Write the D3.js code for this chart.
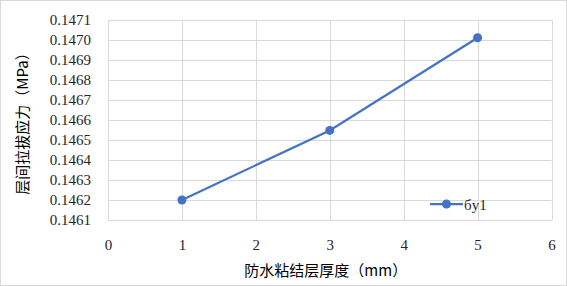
<!DOCTYPE html>
<html>
<head>
<meta charset="utf-8">
<script src="https://cdn.jsdelivr.net/npm/d3@7"></script>
<style>
  body { margin: 0; background: #fff; }
  svg { display: block; }
</style>
</head>
<body>
<div id="chart"></div>
<script>
// data
const thickness = [1, 3, 5];
const stress = [0.14620, 0.146548, 0.147011];
const seriesName = "бy1";
const xTicks = [0, 1, 2, 3, 4, 5, 6];
const yTicks = [0.1461, 0.1462, 0.1463, 0.1464, 0.1465, 0.1466, 0.1467, 0.1468, 0.1469, 0.1470, 0.1471];
const xTitle = "防水粘结层厚度（mm）";
const yTitle = "层间拉拔应力（MPa）";

const W = 567, H = 286;
const margin = { top: 20, right: 15, bottom: 66, left: 108 };
const COLOR = "#4472C4";
const GRID = "#d9d9d9";
const TEXT = "#262626";
const SERIF = "'Liberation Serif', 'Times New Roman', serif";

const svg = d3.select("#chart").append("svg")
    .attr("width", W)
    .attr("height", H);

// outer chart border
svg.append("rect")
    .attr("x", 0.5).attr("y", 0.5)
    .attr("width", W - 1).attr("height", H - 1)
    .attr("fill", "#fff")
    .attr("stroke", "#d9d9d9");

const x = d3.scaleLinear().domain([0, 6]).range([margin.left, W - margin.right - 0.5]);
const y = d3.scaleLinear().domain([0.1461, 0.1471]).range([H - margin.bottom, margin.top]);

//gridlines
const grid = svg.append("g").attr("stroke", GRID).attr("stroke-width", 1);
grid.selectAll(".h").data(yTicks).join("line")
    .attr("x1", x(0)).attr("x2", x(6))
    .attr("y1", d => Math.round(y(d)) + 0.5).attr("y2", d => Math.round(y(d)) + 0.5);
grid.selectAll(".v").data(xTicks).join("line")
    .attr("y1", y(0.1461)).attr("y2", y(0.1471))
    .attr("x1", d => Math.round(x(d)) + 0.5).attr("x2", d => Math.round(x(d)) + 0.5);

// axes labels
const yAxis = svg.append("g")
    .attr("transform", `translate(${margin.left - 14},0)`)
    .call(d3.axisLeft(y).tickValues(yTicks).tickFormat(d3.format(".4f")).tickSize(0));
yAxis.attr("font-family", SERIF).attr("font-size", 15);
yAxis.select(".domain").remove();
yAxis.selectAll("text")
    .style("font-family", SERIF).style("font-size", "15px").attr("fill", TEXT);

const xAxis = svg.append("g")
    .attr("transform", `translate(0,${H - margin.bottom + 16})`)
    .call(d3.axisBottom(x).tickValues(xTicks).tickFormat(d3.format("d")).tickSize(0));
xAxis.attr("font-family", SERIF).attr("font-size", 15);
xAxis.select(".domain").remove();
xAxis.selectAll("text")
    .style("font-family", SERIF).style("font-size", "15px").attr("fill", TEXT);

// titles
svg.append("text")
    .attr("x", (x(0) + x(6)) / 2 - 4).attr("y", 276)
    .attr("text-anchor", "middle")
    .style("font-family", "'Noto Sans CJK SC', sans-serif")
    .style("font-size", "15px").attr("fill", "#000")
    .text(xTitle);

svg.append("text")
    .attr("transform", `translate(28,${(y(0.1461) + y(0.1471)) / 2}) rotate(-90)`)
    .attr("text-anchor", "middle")
    .style("font-family", "'Noto Sans CJK SC', sans-serif")
    .style("font-size", "15px").attr("fill", "#000")
    .text(yTitle);

// series
const pts = thickness.map((t, i) => [t, stress[i]]);
svg.append("path")
    .datum(pts)
    .attr("fill", "none")
    .attr("stroke", COLOR)
    .attr("stroke-width", 2.25)
    .attr("d", d3.line().x(d => x(d[0])).y(d => y(d[1])));

svg.selectAll(".pt").data(pts).join("circle")
    .attr("cx", d => x(d[0])).attr("cy", d => y(d[1]))
    .attr("r", 4.5).attr("fill", COLOR);

// legend
const lg = svg.append("g").attr("transform", "translate(430,204)");
lg.append("line").attr("x1", 0).attr("x2", 33).attr("stroke", COLOR).attr("stroke-width", 2.25);
lg.append("circle").attr("cx", 16.5).attr("r", 4.5).attr("fill", COLOR);
lg.append("text").attr("x", 34).attr("y", 5.5)
    .style("font-family", SERIF).style("font-size", "15px").attr("fill", TEXT)
    .text(seriesName);
</script>
</body>
</html>
